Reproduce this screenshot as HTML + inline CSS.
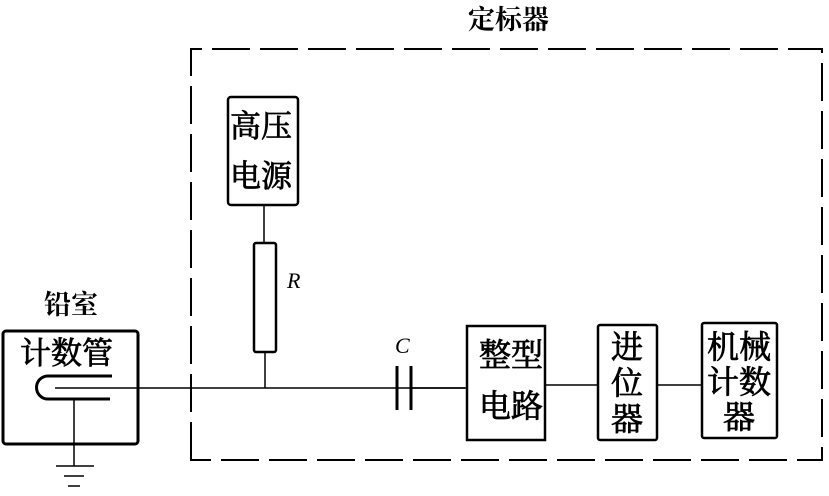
<!DOCTYPE html>
<html><head><meta charset="utf-8"><style>html,body{margin:0;padding:0;background:#fff}svg{display:block}text{font-family:"Liberation Serif","Noto Serif CJK SC","Noto Sans CJK SC",serif;fill:#000}.b{stroke:#000;stroke-width:0.8}</style></head><body>
<svg width="829" height="496" viewBox="0 0 829 496" xmlns="http://www.w3.org/2000/svg">
<g fill="none" stroke="#000">
<path d="M191 460 V49 H822 V460 Z" stroke-width="2" stroke-dasharray="38,10"/>
<rect x="3" y="331" width="135" height="113" rx="3" stroke-width="3"/>
<path d="M112 376 H48 A11.5 11.5 0 0 0 48 399 H110" stroke-width="3"/>
<path d="M55 388 H465" stroke-width="1.5"/>
<path d="M74 399 V466 M56 466 H94 M64 476 H84 M68 486 H80" stroke-width="1.5"/>
<rect x="228" y="97" width="70" height="108" rx="3" stroke-width="2.5"/>
<path d="M264 205 V243 M265 352 V388" stroke-width="1.5"/>
<rect x="254" y="243" width="22" height="109" rx="2" stroke-width="2.5"/>
<path d="M397 366 V410 M411 366 V410" stroke-width="3"/>
<path d="M411 388 H467" stroke-width="1.5"/>
<rect x="467" y="326" width="78" height="114" stroke-width="2.5"/>
<path d="M545 385 H598 M657 385 H702" stroke-width="1.5"/>
<rect x="598" y="325" width="59" height="115" rx="2" stroke-width="2.5"/>
<rect x="702" y="323" width="75" height="115" rx="2" stroke-width="2.5"/>
</g>
<text x="468" y="29" font-size="27" font-weight="bold">定标器</text>
<text x="44" y="314" font-size="27" font-weight="bold">铅室</text>
<text class="b" x="20" y="364" font-size="31">计数管</text>
<text class="b" x="230" y="137" font-size="31">高压</text>
<text class="b" x="230" y="187" font-size="31">电源</text>
<text x="287" y="288" font-size="22" font-style="italic">R</text>
<text x="395" y="353" font-size="22" font-style="italic">C</text>
<text class="b" x="479" y="366" font-size="32">整型</text>
<text class="b" x="479" y="417" font-size="32">电路</text>
<text class="b" x="611" y="358" font-size="32">进</text>
<text class="b" x="611" y="394" font-size="32">位</text>
<text class="b" x="611" y="430" font-size="32">器</text>
<text class="b" x="707" y="358" font-size="32">机械</text>
<text class="b" x="707" y="393" font-size="32">计数</text>
<text class="b" x="723" y="428" font-size="32">器</text>
</svg>
</body></html>
